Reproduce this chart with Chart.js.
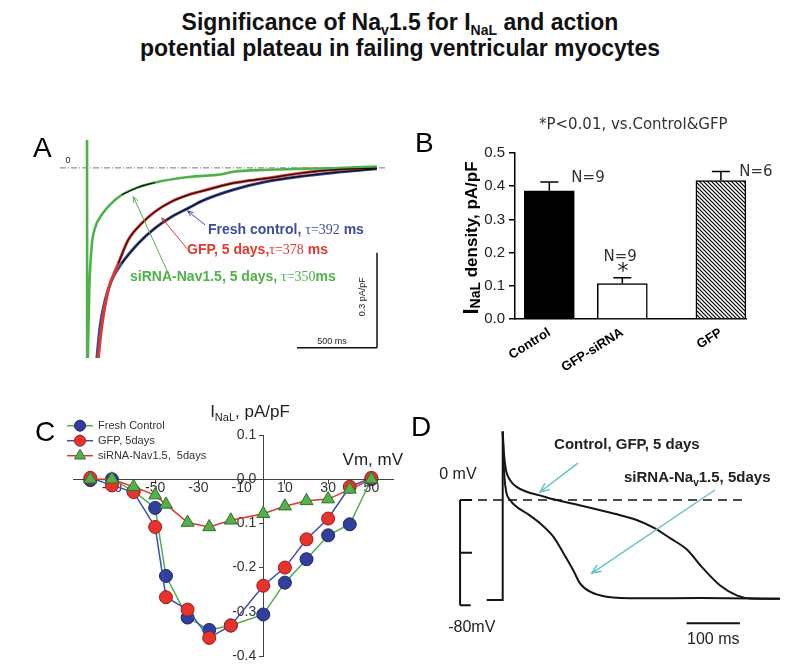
<!DOCTYPE html>
<html>
<head>
<meta charset="utf-8">
<title>Nav1.5 and INaL</title>
<script src="https://cdn.jsdelivr.net/npm/chart.js@4.4.1/dist/chart.umd.min.js"></script>
<style>
  body { margin: 0; width: 800px; height: 671px; background: #fff; position: relative; overflow: hidden;
         font-family: "Liberation Sans", Arial, sans-serif; }
  #title { position: absolute; left: 0; top: 9px; width: 800px; text-align: center; font-weight: bold;
           font-size: 23px; line-height: 26px; color: #111; }
  #title sub { font-size: 14px; line-height: 0; vertical-align: -5px; }
  .lbl { position: absolute; font-size: 28px; line-height: 28px; color: #000; }
  canvas { position: absolute; }
</style>
</head>
<body>
<div id="title">Significance of Na<sub>v</sub>1.5 for I<sub>NaL</sub> and action<br>potential plateau in failing ventricular myocytes</div>
<canvas id="cA" width="380" height="245" style="left:20px;top:130px"></canvas>
<canvas id="cB" width="400" height="280" style="left:400px;top:110px"></canvas>
<canvas id="cC" width="400" height="290" style="left:20px;top:380px"></canvas>
<canvas id="cD" width="380" height="290" style="left:420px;top:380px"></canvas>
<div class="lbl" style="left:33px;top:134px">A</div>
<div class="lbl" style="left:415px;top:129px">B</div>
<div class="lbl" style="left:35px;top:418px">C</div>
<div class="lbl" style="left:411px;top:413px">D</div>
<script>
const SANS = '"Liberation Sans", Arial, sans-serif';
const SERIF = '"Liberation Serif", "Times New Roman", serif';
const GEO = '"DejaVu Sans", sans-serif';

// ---- A: INaL traces, time in ms, current in pA/pF
const greenT = [0, 1, 5, 14, 29, 50, 92, 154, 217, 321, 425, 633, 842, 914, 1123, 1331, 1538, 1811];
const greenV = [0.1, -0.7, -0.6, -0.385, -0.248, -0.19, -0.148, -0.111, -0.085, -0.061, -0.046, -0.029, -0.02, -0.012, -0.006, -0.003, -0.001, 0.004];
const redT = [66, 92, 133, 196, 258, 342, 425, 529, 633, 706, 914, 1123, 1331, 1539, 1811];
const redV = [-0.62, -0.501, -0.385, -0.301, -0.227, -0.175, -0.138, -0.106, -0.085, -0.075, -0.048, -0.033, -0.017, -0.006, -0.001];
const blueT = [58, 81, 113, 154, 217, 321, 425, 529, 633, 720, 914, 1123, 1331, 1539, 1811];
const blueV = [-0.62, -0.501, -0.417, -0.354, -0.301, -0.238, -0.19, -0.154, -0.127, -0.104, -0.069, -0.043, -0.027, -0.015, -0.003];
const fitRange = { green: [206, 430], red: [196, 1811], blue: [217, 1811] };

// ---- B: INaL density
const bCats = ['Control', 'GFP-siRNA', 'GFP'];
const bPos = [0.47, 1.47, 2.82];
const bMean = [0.386, 0.107, 0.417];
const bErr = [0.027, 0.017, 0.027];
const bN = ['N=9', 'N=9', 'N=6'];
const bTicks = [0, 0.1, 0.2, 0.3, 0.4, 0.5];

// ---- C: I-V relation
const cVm = [-80, -70, -60, -50, -45, -35, -25, -15, 0, 10, 20, 30, 40, 50];
const cControl = [-0.002, 0.0, -0.027, -0.065, -0.219, -0.313, -0.341, -0.331, -0.306, -0.234, -0.181, -0.127, -0.102, 0.0];
const cGFP = [0.003, -0.014, -0.029, -0.108, -0.267, -0.295, -0.359, -0.331, -0.241, -0.2, -0.136, -0.089, -0.017, 0.003];
const cSiRNA = [0.0, 0.0, -0.017, -0.036, -0.057, -0.098, -0.108, -0.093, -0.078, -0.061, -0.049, -0.045, -0.023, 0.0];
const cTicksX = [-70, -50, -30, -10, 10, 30, 50];
const cTicksY = [-0.4, -0.3, -0.2, -0.1, 0, 0.1];
const cLegend = ['Fresh Control', 'GFP, 5days', 'siRNA-Nav1.5,  5days'];

// ---- D: action potentials, ms and mV
const stimT = [-30, 0, 0];
const stimV = [-76, -76, 52];
const apCtrlT = [0, 2.4, 6, 14, 26, 45, 70, 95, 150, 210, 250, 283, 314, 345, 376, 408, 439, 464, 520];
const apCtrlV = [52, 35, 23, 15, 10, 6.3, 3.5, 0.5, -4.5, -10.5, -15, -21, -29, -37.5, -52, -65, -72.5, -74.8, -75];
const apSiT = [0, 2.4, 6, 14, 26, 45, 70, 95, 114, 132, 145, 164, 195, 258, 370, 520];
const apSiV = [52, 23, 7.6, 0, -5.1, -10.1, -17.7, -27.9, -40.5, -53.2, -63.3, -69.7, -73.5, -74.7, -74.5, -75];

const pts = (xs, ys) => xs.map((x, i) => ({ x, y: ys[i] }));
const fitOf = (xs, ys, [t0, t1]) => pts(xs, ys).filter(p => p.x >= t0 && p.x <= t1 && p.y > -0.6);

function rich(ctx, parts, x, y, align = 'left', color = '#000') {
  ctx.save();
  ctx.textBaseline = 'middle';
  ctx.textAlign = 'left';
  let w = 0;
  for (const p of parts) { ctx.font = p.font; w += ctx.measureText(p.s).width; }
  let cx = align === 'center' ? x - w / 2 : align === 'right' ? x - w : x;
  for (const p of parts) {
    ctx.font = p.font;
    ctx.fillStyle = p.color || color;
    ctx.fillText(p.s, cx, y + (p.dy || 0));
    cx += ctx.measureText(p.s).width;
  }
  ctx.restore();
}

function arrow(ctx, x1, y1, x2, y2, color, lw = 1, head = 7) {
  const a = Math.atan2(y2 - y1, x2 - x1);
  ctx.save();
  ctx.strokeStyle = color; ctx.lineWidth = lw;
  ctx.beginPath();
  ctx.moveTo(x1, y1); ctx.lineTo(x2, y2);
  ctx.moveTo(x2 - head * Math.cos(a - 0.4), y2 - head * Math.sin(a - 0.4));
  ctx.lineTo(x2, y2);
  ctx.lineTo(x2 - head * Math.cos(a + 0.4), y2 - head * Math.sin(a + 0.4));
  ctx.stroke();
  ctx.restore();
}

function seg(ctx, pairs, color, lw, dash) {
  ctx.save();
  ctx.strokeStyle = color; ctx.lineWidth = lw;
  if (dash) ctx.setLineDash(dash);
  ctx.beginPath();
  for (const [x1, y1, x2, y2] of pairs) { ctx.moveTo(x1, y1); ctx.lineTo(x2, y2); }
  ctx.stroke();
  ctx.restore();
}

const base = {
  responsive: false, animation: false, events: [],
  plugins: { legend: { display: false }, tooltip: { enabled: false } }
};

// ================= A =================
const A_BLUE = '#3b4c9e', A_RED = '#e2372f', A_GREEN = '#4fb14a';
const trace = (data, color, lw) => ({ data, borderColor: color, borderWidth: lw, pointRadius: 0,
  fill: false, cubicInterpolationMode: 'monotone' });

const annoA = {
  id: 'annoA',
  beforeDatasetsDraw(chart) {
    const { ctx, scales: { x, y } } = chart;
    const y0 = y.getPixelForValue(0);
    seg(ctx, [[x.left, y0, x.right, y0]], '#777', 1, [6, 2, 1, 2]);
  },
  afterDraw(chart) {
    const { ctx, scales: { x, y } } = chart;
    const px = t => x.getPixelForValue(t), py = v => y.getPixelForValue(v);
    const B = 'bold 14px ' + SANS, S = '14px ' + SERIF;
    rich(ctx, [{ s: '0', font: '9px ' + SANS }], px(-119), py(0.022), 'center', '#222');
    arrow(ctx, px(738), py(-0.18), px(629), py(-0.136), A_BLUE, 1, 6);
    arrow(ctx, px(625), py(-0.255), px(467), py(-0.158), A_RED, 1, 6);
    arrow(ctx, px(508), py(-0.333), px(289), py(-0.091), A_GREEN, 1, 6);
    rich(ctx, [{ s: 'Fresh control, ', font: B }, { s: 'τ=392', font: S }, { s: ' ms', font: B }], px(756), py(-0.196), 'left', A_BLUE);
    rich(ctx, [{ s: 'GFP, 5 days,', font: B }, { s: 'τ=378', font: S }, { s: ' ms', font: B }], px(625), py(-0.259), 'left', A_RED);
    rich(ctx, [{ s: 'siRNA-Nav1.5, 5 days, ', font: B }, { s: 'τ=350', font: S }, { s: 'ms', font: B }], px(269), py(-0.344), 'left', A_GREEN);
    // scale bars: 500 ms, 0.3 pA/pF
    seg(ctx, [[px(1312), py(-0.568), px(1812), py(-0.568)], [px(1812), py(-0.268), px(1812), py(-0.568)]], '#111', 1.5);
    rich(ctx, [{ s: '500 ms', font: '9px ' + SANS }], px(1531), py(-0.549), 'center', '#222');
    ctx.save();
    ctx.translate(px(1719), py(-0.407));
    ctx.rotate(-Math.PI / 2);
    rich(ctx, [{ s: '0.3 pA/pF', font: '9px ' + SANS }], 0, 0, 'center', '#222');
    ctx.restore();
  }
};

new Chart(document.getElementById('cA'), {
  type: 'line',
  data: { datasets: [
    trace(fitOf(greenT, greenV, fitRange.green), '#111', 1.2),
    trace(fitOf(redT, redV, fitRange.red), '#111', 1.2),
    trace(fitOf(blueT, blueV, fitRange.blue), '#111', 1.2),
    trace(pts(greenT, greenV), A_GREEN, 2.6),
    trace(pts(redT, redV), A_RED, 3),
    trace(pts(blueT, blueV), A_BLUE, 3)
  ] },
  options: { ...base,
    layout: { padding: { left: 40, right: 15, top: 10, bottom: 17 } },
    scales: {
      x: { type: 'linear', display: false, min: -169, max: 1862 },
      y: { type: 'linear', display: false, min: -0.6, max: 0.088 }
    }
  },
  plugins: [annoA]
});

// ================= B =================
function hatch() {
  const c = document.createElement('canvas');
  c.width = c.height = 4;
  const g = c.getContext('2d');
  g.fillStyle = '#fff'; g.fillRect(0, 0, 4, 4);
  g.strokeStyle = '#000'; g.lineWidth = 1.2;
  g.beginPath();
  g.moveTo(-1, -1); g.lineTo(5, 5);
  g.moveTo(-1, 3); g.lineTo(1, 5);
  g.moveTo(3, -1); g.lineTo(5, 1);
  g.stroke();
  return g.createPattern(c, 'repeat');
}

const annoB = {
  id: 'annoB',
  afterDatasetsDraw(chart) {
    const { ctx, scales: { x, y } } = chart;
    const pairs = [];
    bPos.forEach((p, i) => {
      const cx = x.getPixelForValue(p);
      const yb = y.getPixelForValue(bMean[i]), yt = y.getPixelForValue(bMean[i] + bErr[i]);
      pairs.push([cx, yb, cx, yt], [cx - 9, yt, cx + 9, yt]);
    });
    seg(ctx, pairs, '#000', 1.5);
  },
  afterDraw(chart) {
    const { ctx, scales: { x, y } } = chart;
    const px = v => x.getPixelForValue(v), py = v => y.getPixelForValue(v);
    const F = '15px ' + GEO;
    rich(ctx, [{ s: '*P<0.01, vs.Control&GFP', font: F }], px(1.62), py(0.584), 'center', '#333');
    rich(ctx, [{ s: bN[0], font: F }], px(1.0), py(0.425), 'center', '#333');
    rich(ctx, [{ s: bN[1], font: F }], px(1.44), py(0.187), 'center', '#333');
    rich(ctx, [{ s: '*', font: '22px ' + GEO }], px(1.48), py(0.142), 'center', '#222');
    rich(ctx, [{ s: bN[2], font: F }], px(3.30), py(0.443), 'center', '#333');
    ctx.save();
    ctx.translate(72, 128);
    ctx.rotate(-Math.PI / 2);
    rich(ctx, [
      { s: 'I', font: 'bold 22px ' + SANS },
      { s: 'NaL', font: 'bold 14px ' + SANS, dy: 4 },
      { s: ' density, pA/pF', font: 'bold 17px ' + SANS }
    ], 0, 0, 'center', '#000');
    ctx.restore();
  }
};

new Chart(document.getElementById('cB'), {
  type: 'bar',
  data: { datasets: [{
    data: pts(bPos, bMean),
    backgroundColor: ['#000', '#fff', hatch()],
    borderColor: '#000', borderWidth: 1.5, barThickness: 50, borderSkipped: 'start'
  }] },
  options: { ...base,
    layout: { padding: { left: 0, right: 54, top: 43, bottom: 0 } },
    scales: {
      x: { type: 'linear', min: 0, max: 3.164, offset: false,
        afterBuildTicks: s => { s.ticks = bPos.map(value => ({ value })); },
        afterFit: s => { s.height = 71; },
        grid: { drawOnChartArea: false, drawTicks: false },
        border: { color: '#000', width: 1.5 },
        ticks: { autoSkip: false, minRotation: 32, maxRotation: 32, padding: 6, color: '#000',
          font: { family: SANS, size: 13, weight: 'bold' }, callback: (v, i) => bCats[i] } },
      y: { min: 0, max: 0.5,
        afterBuildTicks: s => { s.ticks = bTicks.map(value => ({ value })); },
        afterFit: s => { s.width = 115; },
        grid: { drawOnChartArea: false, tickLength: 6, color: '#000', lineWidth: 1.5 },
        border: { color: '#000', width: 1.5 },
        ticks: { padding: 4, color: '#222', font: { family: SANS, size: 15 }, callback: v => v.toFixed(1) } }
    }
  },
  plugins: [annoB]
});

// ================= C =================
const C_LINE = { control: '#4fae4a', gfp: '#3a4fb0', si: '#e3342e' };
const C_MARK = {
  control: { fill: '#2f3f9c', edge: '#1c2766', style: 'circle', r: 6.5 },
  gfp: { fill: '#e8322c', edge: '#9c1c18', style: 'circle', r: 6.5 },
  si: { fill: '#55b04c', edge: '#2d7328', style: 'triangle', r: 7.5 }
};
const ivSet = (ys, key) => ({
  data: pts(cVm, ys), borderColor: C_LINE[key], borderWidth: 1.5, tension: 0, clip: false,
  pointStyle: C_MARK[key].style, pointRadius: C_MARK[key].r,
  pointBackgroundColor: C_MARK[key].fill, pointBorderColor: C_MARK[key].edge, pointBorderWidth: 1
});

function marker(ctx, m, x, y, r) {
  ctx.save();
  ctx.fillStyle = m.fill; ctx.strokeStyle = m.edge; ctx.lineWidth = 1;
  ctx.beginPath();
  if (m.style === 'circle') ctx.arc(x, y, r, 0, Math.PI * 2);
  else {
    for (let k = 0; k < 3; k++) {
      const a = k * 2 * Math.PI / 3;
      ctx[k ? 'lineTo' : 'moveTo'](x + Math.sin(a) * r, y - Math.cos(a) * r);
    }
    ctx.closePath();
  }
  ctx.fill(); ctx.stroke();
  ctx.restore();
}

const annoC = {
  id: 'annoC',
  beforeDatasetsDraw(chart) {
    // y tick labels sit left of the crossing axis, under the data
    const { ctx, scales: { x, y } } = chart;
    const x0 = x.getPixelForValue(0);
    y.ticks.forEach(t => rich(ctx, [{ s: t.value.toFixed(1), font: '14px ' + SANS }], x0 - 7, y.getPixelForValue(t.value), 'right', '#333'));
  },
  afterDraw(chart) {
    const { ctx } = chart;
    ['control', 'gfp', 'si'].forEach((key, i) => {
      const yy = 45.7 + i * 15;
      seg(ctx, [[47, yy, 73, yy]], C_LINE[key], 1.5);
      marker(ctx, C_MARK[key], 60, yy, key === 'si' ? 6.5 : 5.5);
      rich(ctx, [{ s: cLegend[i], font: '11px ' + SANS }], 78, yy, 'left', '#333');
    });
    rich(ctx, [
      { s: 'I', font: '17px ' + SANS },
      { s: 'NaL', font: '11px ' + SANS, dy: 6 },
      { s: ', pA/pF', font: '17px ' + SANS }
    ], 230, 32, 'center', '#222');
    rich(ctx, [{ s: 'Vm, mV', font: '17px ' + SANS }], 383, 80, 'right', '#222');
  }
};

new Chart(document.getElementById('cC'), {
  type: 'line',
  data: { datasets: [ivSet(cSiRNA, 'si'), ivSet(cGFP, 'gfp'), ivSet(cControl, 'control')] },
  options: { ...base,
    layout: { padding: { left: 53, right: 27, top: 55, bottom: 14 } },
    scales: {
      x: { type: 'linear', min: -88, max: 60, position: { y: 0 },
        afterBuildTicks: s => { s.ticks = cTicksX.map(value => ({ value })); },
        afterFit: s => { s.height = 0; },
        grid: { drawOnChartArea: false, tickLength: 4, color: '#444' },
        border: { color: '#444', width: 1 },
        ticks: { padding: -3, color: '#333', font: { family: SANS, size: 14 } } },
      y: { type: 'linear', min: -0.4, max: 0.1, position: { x: 0 },
        afterBuildTicks: s => { s.ticks = cTicksY.map(value => ({ value })); },
        afterFit: s => { s.width = 0; },
        grid: { drawOnChartArea: false, tickLength: 4, color: '#444' },
        border: { color: '#444', width: 1 },
        ticks: { display: false } }
    }
  },
  plugins: [annoC]
});

// ================= D =================
const CYAN = '#67c3c8';
const annoD = {
  id: 'annoD',
  beforeDatasetsDraw(chart) {
    const { ctx, scales: { x, y } } = chart;
    seg(ctx, [[x.getPixelForValue(-74.5), y.getPixelForValue(0), x.getPixelForValue(449), y.getPixelForValue(0)]], '#111', 1.5, [9, 6]);
  },
  afterDraw(chart) {
    const { ctx, scales: { x, y } } = chart;
    const px = t => x.getPixelForValue(t), py = v => y.getPixelForValue(v);
    // voltage bracket 0 / -40 / -80 mV and 100 ms bar
    seg(ctx, [
      [px(-80), py(0), px(-80), py(-80)],
      [px(-80), py(0), px(-57.5), py(0)],
      [px(-80), py(-40), px(-57.5), py(-40)],
      [px(-80), py(-80), px(-60), py(-80)],
      [px(345), py(-93.7), px(445), py(-93.7)]
    ], '#111', 2);
    const R = '16px ' + SANS, BB = 'bold 15px ' + SANS;
    rich(ctx, [{ s: '0 mV', font: R }], px(-84), py(19), 'center', '#222');
    rich(ctx, [{ s: '-80mV', font: R }], px(-58), py(-97), 'center', '#222');
    rich(ctx, [{ s: '100 ms', font: R }], px(395), py(-106), 'center', '#222');
    rich(ctx, [{ s: 'Control, GFP, 5 days', font: BB }], px(233), py(41.8), 'center', '#222');
    rich(ctx, [{ s: 'siRNA-Na', font: BB }, { s: 'v', font: 'bold 10px ' + SANS, dy: 5 }, { s: '1.5, 5days', font: BB }],
      px(365), py(16.7), 'center', '#222');
    arrow(ctx, px(141), py(28), px(70), py(6.1), CYAN, 1.5, 10);
    arrow(ctx, px(398), py(7.6), px(167), py(-55.7), CYAN, 1.5, 10);
  }
};

const apSet = (data, lw, tensionMode) => ({ data, borderColor: '#151515', borderWidth: lw, pointRadius: 0,
  fill: false, cubicInterpolationMode: tensionMode });

new Chart(document.getElementById('cD'), {
  type: 'line',
  data: { datasets: [
    apSet(pts(stimT, stimV), 2, 'default'),
    apSet(pts(apCtrlT, apCtrlV), 2, 'monotone'),
    apSet(pts(apSiT, apSiV), 2, 'monotone')
  ] },
  options: { ...base,
    layout: { padding: { left: 35, right: 10, top: 45, bottom: 20 } },
    scales: {
      x: { type: 'linear', display: false, min: -89.5, max: 539 },
      y: { type: 'linear', display: false, min: -114, max: 57 }
    }
  },
  plugins: [annoD]
});
</script>
</body>
</html>
